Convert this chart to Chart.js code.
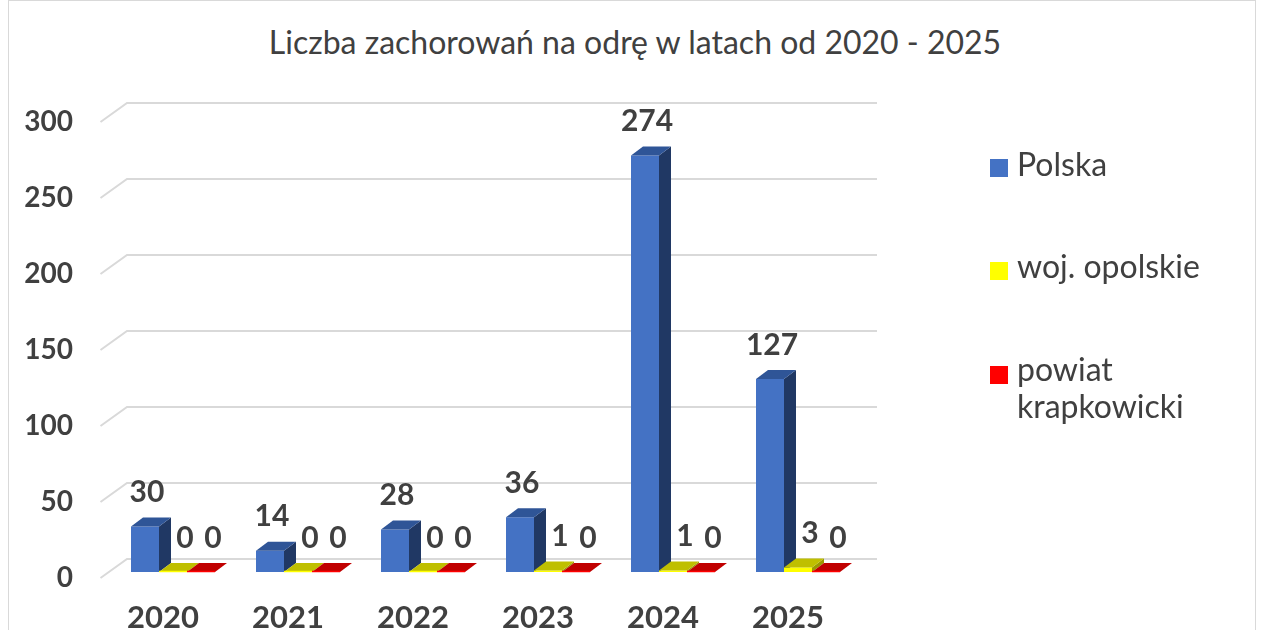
<!DOCTYPE html>
<html lang="pl">
<head>
<meta charset="utf-8">
<title>Liczba zachorowań na odrę</title>
<script src="https://cdn.jsdelivr.net/npm/chart.js"></script>
<style>
    html, body { margin: 0; padding: 0; background: #fff; }
    body { width: 1262px; height: 630px; overflow: hidden; position: relative; font-family: Lato, "Open Sans", sans-serif; color: #404040; }
    #frame { position: absolute; left: 8px; top: 0; width: 1248px; height: 700px; border: 1px solid #d9d9d9; box-sizing: border-box; }
    #chartTitle { position: absolute; left: 4px; top: 23px; width: 1262px; text-align: center; font-size: 32px; line-height: 1.2; }
    #chart { position: absolute; left: 0; top: 0; }
    .legend-item { position: absolute; left: 990px; font-size: 32px; line-height: 37px; }
    .legend-item .box { position: absolute; left: 0; width: 18px; height: 18px; }
    .legend-item .txt { position: absolute; left: 27px; white-space: nowrap; }
</style>
</head>
<body>
<div id="frame"></div>
<div id="chartTitle">Liczba zachorowań na odrę w latach od 2020 - 2025</div>
<canvas id="chart" width="1262" height="630"></canvas>
<div id="legend"></div>

<script>
(function (window, document) {
    'use strict';

    // dane
    var years = ['2020', '2021', '2022', '2023', '2024', '2025'];
    var polska = [30, 14, 28, 36, 274, 127];
    var opolskie = [0, 0, 0, 1, 1, 3];
    var krapkowicki = [0, 0, 0, 0, 0, 0];
    var yTicks = [0, 50, 100, 150, 200, 250, 300];
    var seriesNames = ['Polska', 'woj. opolskie', ['powiat', 'krapkowicki']];

    var faces = [
        { front: '#4472c4', top: '#2f5597', side: '#203864' },
        { front: '#ffff00', top: '#bfbf00', side: '#9a9a00' },
        { front: '#ff0000', top: '#c00000', side: '#990000' }
    ];

    var depth = { dx: 12, dy: 9 };
    var labelShift = [2, 12, 12];
    var textColor = '#404040';

    var bars3d = {
        id: 'bars3d',
        beforeDatasetsDraw: function (chart) {
            var ctx = chart.ctx;
            var y = chart.scales.y;
            var area = chart.chartArea;

            // siatka na tylnej scianie
            ctx.save();
            ctx.strokeStyle = '#d9d9d9';
            ctx.lineWidth = 2;
            y.ticks.forEach(function (t) {
                var py = y.getPixelForValue(t.value);
                ctx.beginPath();
                ctx.moveTo(area.left - 10, py + 6);
                ctx.lineTo(area.left + 16.5, py - 13);
                ctx.lineTo(area.right + 16.5, py - 13);
                ctx.stroke();
            });

            // boki slupkow (przod rysuje Chart.js)
            chart.data.datasets.forEach(function (ds, i) {
                chart.getDatasetMeta(i).data.forEach(function (bar) {
                    var p = bar.getProps(['x', 'y', 'base', 'width'], true);
                    var r = p.x + p.width / 2;
                    if (p.base - p.y < 0.5) return;
                    ctx.fillStyle = faces[i].side;
                    ctx.beginPath();
                    ctx.moveTo(r, p.y);
                    ctx.lineTo(r + depth.dx, p.y - depth.dy);
                    ctx.lineTo(r + depth.dx, p.base - depth.dy);
                    ctx.lineTo(r, p.base);
                    ctx.closePath();
                    ctx.fill();
                });
            });
            ctx.restore();
        },
        afterDatasetsDraw: function (chart) {
            var ctx = chart.ctx;
            ctx.save();

            // gorne sciany
            chart.data.datasets.forEach(function (ds, i) {
                chart.getDatasetMeta(i).data.forEach(function (bar) {
                    var p = bar.getProps(['x', 'y', 'base', 'width'], true);
                    var l = p.x - p.width / 2;
                    var r = p.x + p.width / 2;
                    ctx.fillStyle = faces[i].top;
                    ctx.beginPath();
                    ctx.moveTo(l, p.y);
                    ctx.lineTo(r, p.y);
                    ctx.lineTo(r + depth.dx, p.y - depth.dy);
                    ctx.lineTo(l + depth.dx, p.y - depth.dy);
                    ctx.closePath();
                    ctx.fill();
                    if (p.base - p.y < 1.5) {
                        ctx.strokeStyle = faces[i].front;
                        ctx.lineWidth = 1.5;
                        ctx.beginPath();
                        ctx.moveTo(l, p.base - 0.5);
                        ctx.lineTo(r, p.base - 0.5);
                        ctx.stroke();
                    }
                });
            });

            // etykiety wartosci
            ctx.font = 'bold 30px Lato, sans-serif';
            ctx.fillStyle = textColor;
            ctx.textAlign = 'center';
            ctx.textBaseline = 'middle';
            chart.data.datasets.forEach(function (ds, i) {
                chart.getDatasetMeta(i).data.forEach(function (bar, j) {
                    var p = bar.getProps(['x', 'y'], true);
                    ctx.fillText(String(ds.data[j]), p.x + labelShift[i], p.y - 34);
                });
            });
            ctx.restore();
        }
    };

    function buildLegend() {
        var tops = [145, 247, 350];
        var boxTops = [14, 15, 16];
        var $legend = document.getElementById('legend');
        seriesNames.forEach(function (name, i) {
            var item = document.createElement('div');
            item.className = 'legend-item';
            item.style.top = tops[i] + 'px';
            var lines = Array.isArray(name) ? name : [name];
            item.innerHTML = '<span class="box" style="top:' + boxTops[i] + 'px;background:' + faces[i].front + '"></span>' +
                '<span class="txt">' + lines.join('<br>') + '</span>';
            $legend.appendChild(item);
        });
    }

    function initChart() {
        var ctx = document.getElementById('chart').getContext('2d');

        return new Chart(ctx, {
            type: 'bar',
            data: {
                labels: years,
                datasets: [
                    { label: 'Polska', data: polska, backgroundColor: faces[0].front },
                    { label: 'woj. opolskie', data: opolskie, backgroundColor: faces[1].front },
                    { label: 'powiat krapkowicki', data: krapkowicki, backgroundColor: faces[2].front }
                ]
            },
            options: {
                responsive: false,
                animation: false,
                layout: { padding: { top: 116, right: 401.5, bottom: 0, left: 0 } },
                datasets: { bar: { categoryPercentage: 0.672, barPercentage: 1 } },
                plugins: {
                    legend: { display: false },
                    title: { display: false },
                    tooltip: { enabled: false }
                },
                scales: {
                    x: {
                        grid: { display: false, drawTicks: false },
                        border: { display: false },
                        ticks: {
                            font: { family: 'Lato', size: 31, weight: 'bold' },
                            color: textColor,
                            padding: 27.5,
                            labelOffset: -10,
                            maxRotation: 0
                        },
                        afterFit: function (scale) { scale.height = 58; }
                    },
                    y: {
                        min: yTicks[0],
                        max: yTicks[yTicks.length - 1],
                        grid: { display: false, drawTicks: false },
                        border: { display: false },
                        afterBuildTicks: function (scale) {
                            scale.ticks = yTicks.map(function (v) { return { value: v }; });
                        },
                        ticks: {
                            font: { family: 'Lato', size: 28, weight: 'bold' },
                            color: textColor,
                            padding: 37.5,
                            labelOffset: 6
                        },
                        afterFit: function (scale) { scale.width = 110.5; }
                    }
                }
            },
            plugins: [bars3d]
        });
    }

    buildLegend();
    initChart();

})(window, document);
</script>
</body>
</html>
